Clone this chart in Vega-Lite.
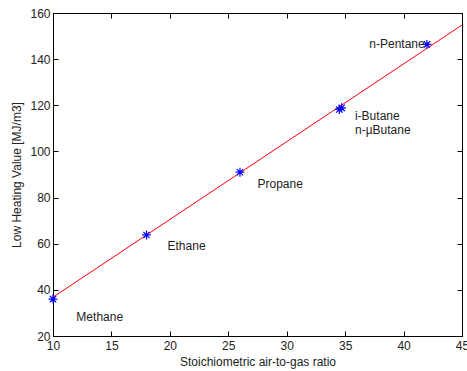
{
  "$schema": "https://vega.github.io/schema/vega-lite/v6.json",
  "autosize": "none",
  "padding": {"left": 53, "top": 13, "right": 5, "bottom": 35},
  "width": 409,
  "height": 323,
  "background": "white",
  "datasets": {
    "fit": [
      {"ratio": 10, "lhv": 36.8},
      {"ratio": 45, "lhv": 154.8}
    ],
    "gases": [
      {"gas": "Methane", "ratio": 10, "lhv": 36},
      {"gas": "Ethane", "ratio": 18, "lhv": 63.8},
      {"gas": "Propane", "ratio": 26, "lhv": 91},
      {"gas": "i-Butane", "ratio": 34.5, "lhv": 118.2},
      {"gas": "n-Butane", "ratio": 34.7, "lhv": 118.9},
      {"gas": "n-Pentane", "ratio": 42, "lhv": 146.4}
    ],
    "labels": [
      {"text": "Methane", "ratio": 12, "lhv": 28.2},
      {"text": "Ethane", "ratio": 19.8, "lhv": 59.1},
      {"text": "Propane", "ratio": 27.5, "lhv": 85.7},
      {"text": "i-Butane", "ratio": 35.84, "lhv": 115.2},
      {"text": "n-µButane", "ratio": 35.84, "lhv": 109.2},
      {"text": "n-Pentane", "ratio": 37.07, "lhv": 146.4}
    ]
  },
  "layer": [
    {
      "data": {"name": "fit"},
      "mark": {"type": "line", "color": "#ff0000", "strokeWidth": 1},
      "encoding": {
        "x": {"field": "ratio", "type": "quantitative", "scale": {"domain": [10, 45], "nice": false, "zero": false},
              "axis": {"orient": "top", "labels": false, "title": null, "values": [10,15,20,25,30,35,40,45], "domain": false}},
        "y": {"field": "lhv", "type": "quantitative", "scale": {"domain": [20, 160], "nice": false, "zero": false},
              "axis": {"orient": "right", "labels": false, "title": null, "values": [20,40,60,80,100,120,140,160], "domain": false}}
      }
    },
    {
      "data": {"name": "gases"},
      "mark": {"type": "point", "shape": "M-1,0L1,0M0,-1L0,1M-0.7,-0.7L0.7,0.7M-0.7,0.7L0.7,-0.7", "filled": false, "color": "#0000ff", "size": 80, "strokeWidth": 1.2, "opacity": 1},
      "encoding": {
        "x": {"field": "ratio", "type": "quantitative",
              "axis": {"orient": "bottom", "title": "Stoichiometric air-to-gas ratio", "values": [10,15,20,25,30,35,40,45]}},
        "y": {"field": "lhv", "type": "quantitative",
              "axis": {"orient": "left", "title": "Low Heating Value [MJ/m3]", "values": [20,40,60,80,100,120,140,160]}}
      }
    },
    {
      "data": {"name": "labels"},
      "mark": {"type": "text", "align": "left", "baseline": "middle", "font": "Liberation Sans", "fontSize": 12, "color": "#222222"},
      "encoding": {
        "x": {"field": "ratio", "type": "quantitative", "axis": null},
        "y": {"field": "lhv", "type": "quantitative", "axis": null},
        "text": {"field": "text"}
      }
    }
  ],
  "resolve": {"axis": {"x": "independent", "y": "independent"}},
  "config": {
    "view": {"stroke": "black", "strokeWidth": 1},
    "axis": {
      "grid": false,
      "domainColor": "black",
      "tickColor": "black",
      "tickSize": -5,
      "labelFont": "Liberation Sans",
      "labelFontSize": 12,
      "labelColor": "#222222",
      "titleFont": "Liberation Sans",
      "titleFontSize": 12,
      "titleFontWeight": "normal",
      "titleColor": "#222222"
    },
    "axisBottom": {"labelPadding": 9, "titlePadding": 5, "labelFlush": false, "labelOverlap": false},
    "axisLeft": {"labelPadding": 8, "titlePadding": 6}
  }
}
